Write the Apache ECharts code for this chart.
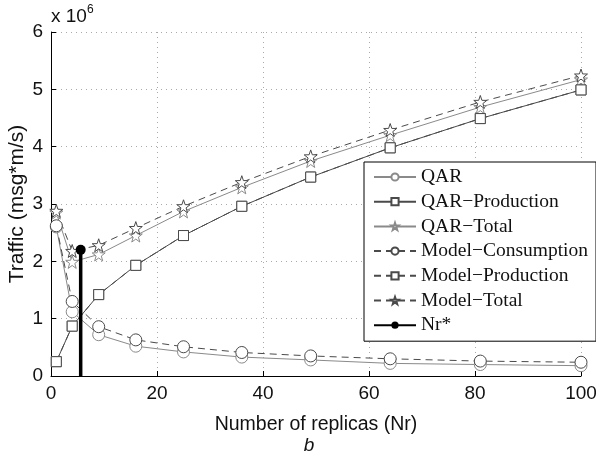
<!DOCTYPE html>
<html>
<head>
<meta charset="utf-8">
<script src="https://cdn.jsdelivr.net/npm/echarts@6/dist/echarts.min.js"></script>
<style>
  html, body { margin: 0; padding: 0; background: #fff; }
  #chart { width: 596px; height: 454px; }
</style>
</head>
<body>
<div id="chart"></div>
<script>
var myChart = echarts.init(document.getElementById('chart'));

// number of replicas (x), values in units of 10^6 msg*m/s
var replicas = [1, 4, 9, 16, 25, 36, 49, 64, 81, 100];
var qar = [2.6, 1.12, 0.72, 0.52, 0.42, 0.33, 0.28, 0.22, 0.2, 0.18];
var qarProduction = [0.25, 0.87, 1.42, 1.93, 2.45, 2.96, 3.47, 3.98, 4.49, 4.99];
var qarTotal = [2.85, 1.99, 2.12, 2.45, 2.87, 3.29, 3.75, 4.2, 4.69, 5.17];
var modelConsumption = [2.62, 1.3, 0.86, 0.63, 0.51, 0.41, 0.35, 0.3, 0.26, 0.24];
var modelProduction = [0.25, 0.87, 1.42, 1.93, 2.45, 2.96, 3.47, 3.98, 4.49, 4.99];
var modelTotal = [2.88, 2.18, 2.28, 2.58, 2.96, 3.38, 3.83, 4.29, 4.78, 5.24];
var nrStar = 5.6;
var nrStarValue = 2.2;

var starPath = 'path://M0,-10L2.35,-3.24L9.51,-3.09L3.8,1.24L5.88,8.09L0,4L-5.88,8.09L-3.8,1.24L-9.51,-3.09L-2.35,-3.24Z';

function pairs(ys) {
    var out = [];
    for (var i = 0; i < replicas.length; i++) {
        out.push([replicas[i], ys[i]]);
    }
    return out;
}

function makeSeries(name, ys, symbol, size, color, dashed) {
    return {
        name: name,
        type: 'line',
        data: pairs(ys),
        symbol: symbol,
        symbolSize: size,
        showAllSymbol: true,
        lineStyle: { color: color, width: 1, type: dashed ? [7, 5] : 'solid' },
        itemStyle: { color: '#fff', borderColor: color, borderWidth: 1 },
        emphasis: { disabled: true },
        animation: false
    };
}

var qarColor = '#8a8a8a';
var modelColor = '#4a4a4a';

var option = {
    backgroundColor: '#fff',
    animation: false,
    grid: { left: 51, right: 15, top: 32, bottom: 78, containLabel: false, outerBoundsMode: 'none' },
    legend: {
        orient: 'vertical',
        left: 364,
        top: 162,
        padding: [5, 8, 6, 9],
        itemWidth: 42,
        itemHeight: 9,
        itemGap: 4.7,
        backgroundColor: '#fff',
        borderColor: '#000',
        borderWidth: 1,
        textStyle: { fontFamily: 'Liberation Serif', fontSize: 19.5, lineHeight: 20, color: '#111' },
        data: ['QAR', 'QAR\u2212Production', 'QAR\u2212Total', 'Model\u2212Consumption',
               'Model\u2212Production', 'Model\u2212Total', 'Nr*']
    },
    xAxis: {
        type: 'value',
        min: 0,
        max: 100,
        interval: 20,
        name: 'Number of replicas (Nr)',
        nameLocation: 'middle',
        nameGap: 39,
        nameTextStyle: { fontFamily: 'Liberation Sans', fontSize: 19.5, color: '#111' },
        axisLine: { lineStyle: { color: '#000', width: 1 } },
        axisTick: { inside: true, length: 5, lineStyle: { color: '#000' } },
        axisLabel: { margin: 8, fontFamily: 'Liberation Sans', fontSize: 19, color: '#111' },
        splitLine: { show: true, lineStyle: { color: '#aaa', type: [1, 4] } }
    },
    yAxis: {
        type: 'value',
        min: 0,
        max: 6,
        interval: 1,
        name: 'Traffic (msg*m/s)',
        nameLocation: 'middle',
        nameGap: 23,
        nameMoveOverlap: false,
        nameTextStyle: { fontFamily: 'Liberation Sans', fontSize: 21, color: '#111' },
        axisLine: { show: true, lineStyle: { color: '#000', width: 1 } },
        axisTick: { show: true, inside: true, length: 5, lineStyle: { color: '#000' } },
        axisLabel: { margin: 8, fontFamily: 'Liberation Sans', fontSize: 19, color: '#111' },
        splitLine: { show: true, lineStyle: { color: '#aaa', type: [1, 4] } }
    },
    graphic: [
        {
            type: 'text',
            left: 51,
            top: 4,
            style: {
                text: '{a|x 10}{s|6}',
                rich: {
                    a: { fontFamily: 'Liberation Sans', fontSize: 19, fill: '#111', verticalAlign: 'bottom' },
                    s: { fontFamily: 'Liberation Sans', fontSize: 12, fill: '#111', verticalAlign: 'top', padding: [0, 0, 10, 0] }
                }
            }
        },
        {
            type: 'text',
            x: 309,
            y: 446,
            style: {
                text: 'b',
                fontFamily: 'Liberation Sans',
                fontStyle: 'italic',
                fontSize: 19,
                fill: '#111',
                align: 'center',
                verticalAlign: 'middle'
            }
        }
    ],
    series: [
        makeSeries('QAR', qar, 'circle', 12, qarColor, false),
        makeSeries('QAR\u2212Production', qarProduction, 'rect', 10, modelColor, false),
        makeSeries('QAR\u2212Total', qarTotal, starPath, 13, qarColor, false),
        makeSeries('Model\u2212Consumption', modelConsumption, 'circle', 12, modelColor, true),
        makeSeries('Model\u2212Production', modelProduction, 'rect', 10, modelColor, true),
        makeSeries('Model\u2212Total', modelTotal, starPath, 13, modelColor, true),
        {
            name: 'Nr*',
            type: 'line',
            data: [{ value: [nrStar, 0], symbol: 'none' }, [nrStar, nrStarValue]],
            symbol: 'circle',
            symbolSize: 10,
            lineStyle: { color: '#000', width: 3.5 },
            itemStyle: { color: '#000' },
            emphasis: { disabled: true },
            z: 5
        }
    ]
};

myChart.setOption(option);
</script>
</body>
</html>
